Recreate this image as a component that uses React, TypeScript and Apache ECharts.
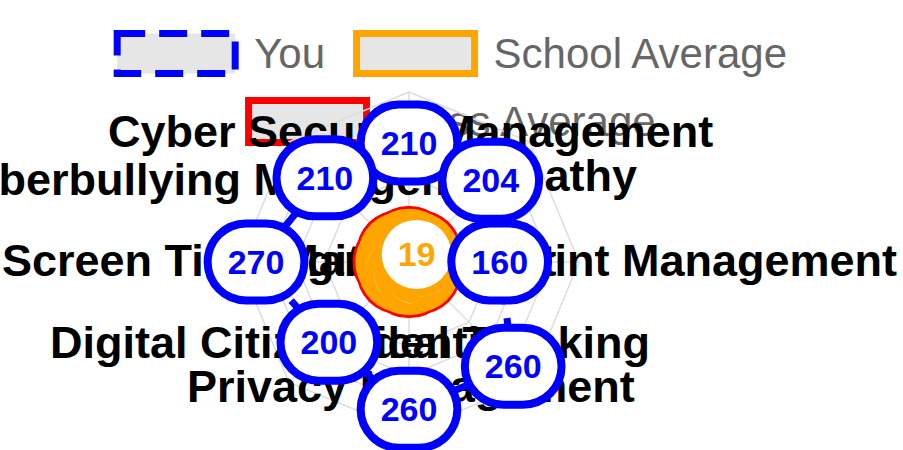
import React, { useEffect, useRef } from 'react';
import * as echarts from 'echarts';

// Indicators in ECharts radar order (top, then counter-clockwise)
const indicatorNames = [
  'Cyber Security Management',
  'Cyberbullying Management',
  'Screen Time Management',
  'Digital Citizen Identity',
  'Privacy Management',
  'Critical Thinking',
  'Digital Footprint Management',
  'Empathy',
];
const youValues = [210, 210, 270, 200, 260, 260, 160, 204];
const schoolValues = [19, 19, 19, 19, 19, 19, 19, 19];
const classValues = [24, 24, 24, 24, 24, 24, 24, 24];
const axisMax = 300;
const seriesNames = ['You', 'School Average', 'Class Average'];

// Layout of the indicator names (text placement only)
const nameLayout = [
  { x: 108, y: 131, align: 'left' },
  { x: -59, y: 179, align: 'left' },
  { x: 2, y: 260, align: 'left' },
  { x: 50, y: 342, align: 'left' },
  { x: 187, y: 386, align: 'left' },
  { x: 650, y: 342, align: 'right' },
  { x: 897, y: 260, align: 'right' },
  { x: 637, y: 175, align: 'right' },
];

const FONT = '"Liberation Sans", Arial, Helvetica, sans-serif';
const BLUE = '#0000ff';
const ORANGE = '#ffa500';
const RED = '#ff0000';
const LEGEND_FILL = '#e6e6e6';

function bubbleLabel(color: string) {
  return {
    show: true,
    position: 'inside',
    color,
    fontFamily: FONT,
    fontWeight: 'bold',
    fontSize: 34,
    backgroundColor: '#ffffff',
    borderColor: color,
    borderWidth: 8,
    borderRadius: 40,
    padding: [19, 16, 16, 16],
  };
}

export default function App() {
  const ref = useRef<HTMLDivElement>(null);
  useEffect(() => {
    if (!ref.current) return;
    const chart = echarts.init(ref.current, null, { renderer: 'svg' });
    const legendText = {
      fontSize: 42,
      color: '#666666',
      fontFamily: FONT,
      padding: [0, 0, 0, 14],
    };
    const option: any = {
      animation: false,
      backgroundColor: '#ffffff',
      legend: [
        {
          z: 1,
          top: 25,
          left: 'center',
          icon: 'rect',
          itemWidth: 118,
          itemHeight: 40,
          itemGap: 28,
          selectedMode: false,
          textStyle: legendText,
          data: [
            {
              name: seriesNames[0],
              itemStyle: { color: LEGEND_FILL, borderColor: BLUE, borderWidth: 7, borderType: 'dashed' },
            },
            {
              name: seriesNames[1],
              itemStyle: { color: LEGEND_FILL, borderColor: ORANGE, borderWidth: 7 },
            },
          ],
        },
        {
          z: 1,
          top: 92,
          left: 'center',
          icon: 'rect',
          itemWidth: 118,
          itemHeight: 42,
          itemGap: 28,
          selectedMode: false,
          textStyle: legendText,
          data: [
            {
              name: seriesNames[2],
              itemStyle: { color: LEGEND_FILL, borderColor: RED, borderWidth: 7 },
            },
          ],
        },
      ],
      radar: {
        z: 2,
        center: [409, 262],
        radius: 170,
        startAngle: 90,
        shape: 'polygon',
        splitNumber: 6,
        indicator: indicatorNames.map((name) => ({ name, min: 0, max: axisMax })),
        axisName: { show: false },
        splitLine: { lineStyle: { color: '#dddddd', width: 1.5 } },
        axisLine: { lineStyle: { color: '#dddddd', width: 1.5 } },
        splitArea: { show: false },
        axisTick: { show: false },
        axisLabel: { show: false },
      },
      graphic: indicatorNames.map((name, i) => ({
        type: 'text',
        z: 3,
        x: nameLayout[i].x,
        y: nameLayout[i].y,
        style: {
          text: name,
          fill: '#000000',
          font: `bold 45px ${FONT}`,
          fontSize: 45,
          fontWeight: 'bold',
          fontFamily: FONT,
          align: nameLayout[i].align,
          textAlign: nameLayout[i].align,
          verticalAlign: 'middle',
          textVerticalAlign: 'middle',
        },
      })),
      series: [
        {
          type: 'radar',
          name: seriesNames[2],
          z: 5,
          symbol: 'circle',
          symbolSize: 6,
          itemStyle: { color: RED },
          lineStyle: { color: RED, width: 5 },
          label: bubbleLabel(RED),
          data: [{ name: seriesNames[2], value: classValues }],
        },
        {
          type: 'radar',
          name: seriesNames[1],
          z: 6,
          symbol: 'circle',
          symbolSize: 6,
          itemStyle: { color: ORANGE },
          lineStyle: { color: ORANGE, width: 5 },
          label: bubbleLabel(ORANGE),
          data: [{ name: seriesNames[1], value: schoolValues }],
        },
        {
          type: 'radar',
          name: seriesNames[0],
          z: 7,
          symbol: 'circle',
          symbolSize: 6,
          itemStyle: { color: BLUE },
          lineStyle: { color: BLUE, width: 7, type: 'dashed' },
          label: bubbleLabel(BLUE),
          data: [{ name: seriesNames[0], value: youValues }],
        },
      ],
    };
    chart.setOption(option);
    return () => chart.dispose();
  }, []);
  return (
    <div
      ref={ref}
      style={{ position: 'fixed', left: 0, top: 0, width: 903, height: 450, background: '#fff' }}
    />
  );
}
